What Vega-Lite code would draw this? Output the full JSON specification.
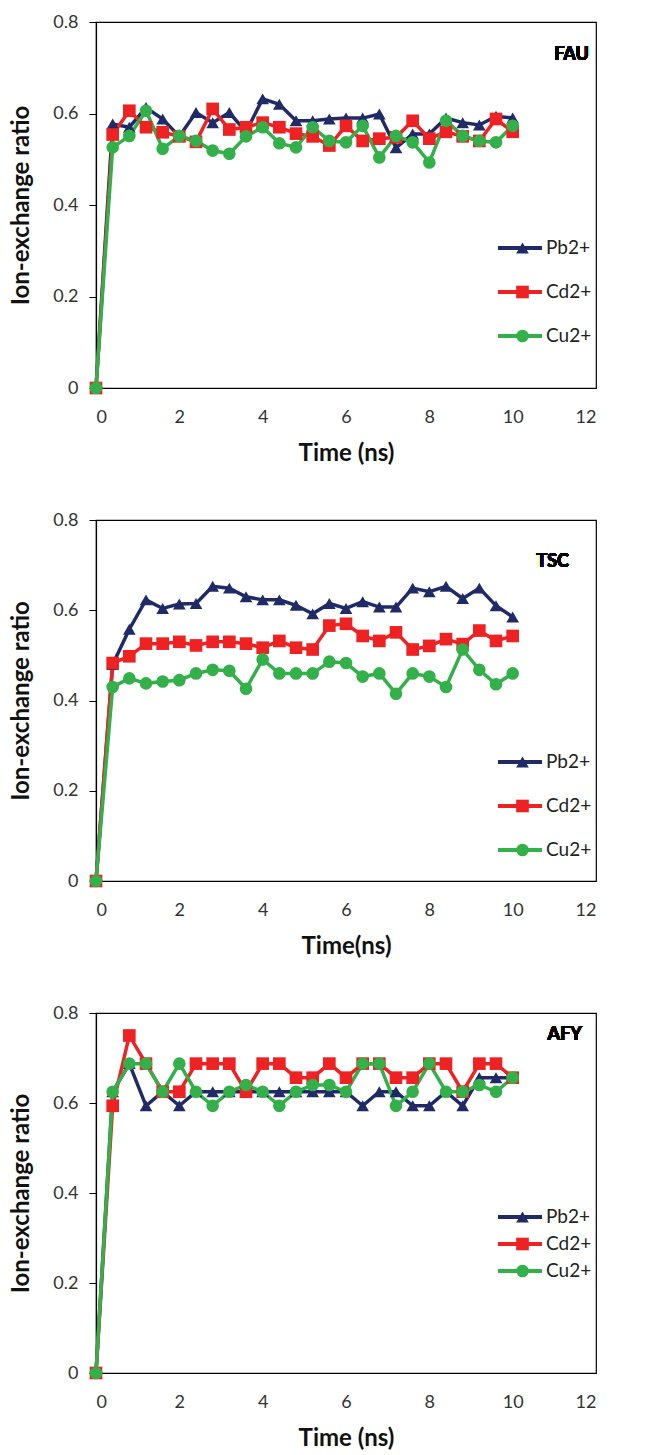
{
  "$schema": "https://vega.github.io/schema/vega-lite/v6.json",
  "padding": {"left": 9, "top": 12, "right": 5, "bottom": 5},
  "background": "white",
  "config": {
    "font": "Lato",
    "view": {"stroke": "#000", "strokeWidth": 1.2},
    "axis": {"grid": false, "domainColor": "#000", "domainWidth": 1.2, "tickColor": "#000", "labelFont": "Lato", "labelFontSize": 18, "labelColor": "#333", "titleFont": "Lato", "titleFontSize": 24, "titleFontWeight": "bold", "titleColor": "#111"},
    "legend": {"labelFont": "Lato", "labelFontSize": 19, "labelColor": "#222", "padding": 0}
  },
  "datasets": {
    "fau": [
      {"t": 0, "ion": "Pb2+", "r": 0}, {"t": 0.4, "ion": "Pb2+", "r": 0.577}, {"t": 0.8, "ion": "Pb2+", "r": 0.57}, {"t": 1.2, "ion": "Pb2+", "r": 0.613}, {"t": 1.6, "ion": "Pb2+", "r": 0.588}, {"t": 2.0, "ion": "Pb2+", "r": 0.55}, {"t": 2.4, "ion": "Pb2+", "r": 0.602}, {"t": 2.8, "ion": "Pb2+", "r": 0.58}, {"t": 3.2, "ion": "Pb2+", "r": 0.602}, {"t": 3.6, "ion": "Pb2+", "r": 0.56}, {"t": 4.0, "ion": "Pb2+", "r": 0.632}, {"t": 4.4, "ion": "Pb2+", "r": 0.62}, {"t": 4.8, "ion": "Pb2+", "r": 0.584}, {"t": 5.2, "ion": "Pb2+", "r": 0.584}, {"t": 5.6, "ion": "Pb2+", "r": 0.588}, {"t": 6.0, "ion": "Pb2+", "r": 0.59}, {"t": 6.4, "ion": "Pb2+", "r": 0.59}, {"t": 6.8, "ion": "Pb2+", "r": 0.599}, {"t": 7.2, "ion": "Pb2+", "r": 0.525}, {"t": 7.6, "ion": "Pb2+", "r": 0.555}, {"t": 8.0, "ion": "Pb2+", "r": 0.555}, {"t": 8.4, "ion": "Pb2+", "r": 0.59}, {"t": 8.8, "ion": "Pb2+", "r": 0.58}, {"t": 9.2, "ion": "Pb2+", "r": 0.575}, {"t": 9.6, "ion": "Pb2+", "r": 0.594}, {"t": 10.0, "ion": "Pb2+", "r": 0.59},
      {"t": 0, "ion": "Cd2+", "r": 0}, {"t": 0.4, "ion": "Cd2+", "r": 0.554}, {"t": 0.8, "ion": "Cd2+", "r": 0.606}, {"t": 1.2, "ion": "Cd2+", "r": 0.57}, {"t": 1.6, "ion": "Cd2+", "r": 0.559}, {"t": 2.0, "ion": "Cd2+", "r": 0.55}, {"t": 2.4, "ion": "Cd2+", "r": 0.538}, {"t": 2.8, "ion": "Cd2+", "r": 0.61}, {"t": 3.2, "ion": "Cd2+", "r": 0.565}, {"t": 3.6, "ion": "Cd2+", "r": 0.57}, {"t": 4.0, "ion": "Cd2+", "r": 0.58}, {"t": 4.4, "ion": "Cd2+", "r": 0.57}, {"t": 4.8, "ion": "Cd2+", "r": 0.556}, {"t": 5.2, "ion": "Cd2+", "r": 0.55}, {"t": 5.6, "ion": "Cd2+", "r": 0.53}, {"t": 6.0, "ion": "Cd2+", "r": 0.573}, {"t": 6.4, "ion": "Cd2+", "r": 0.54}, {"t": 6.8, "ion": "Cd2+", "r": 0.545}, {"t": 7.2, "ion": "Cd2+", "r": 0.548}, {"t": 7.6, "ion": "Cd2+", "r": 0.584}, {"t": 8.0, "ion": "Cd2+", "r": 0.545}, {"t": 8.4, "ion": "Cd2+", "r": 0.56}, {"t": 8.8, "ion": "Cd2+", "r": 0.55}, {"t": 9.2, "ion": "Cd2+", "r": 0.54}, {"t": 9.6, "ion": "Cd2+", "r": 0.588}, {"t": 10.0, "ion": "Cd2+", "r": 0.56},
      {"t": 0, "ion": "Cu2+", "r": 0}, {"t": 0.4, "ion": "Cu2+", "r": 0.526}, {"t": 0.8, "ion": "Cu2+", "r": 0.551}, {"t": 1.2, "ion": "Cu2+", "r": 0.606}, {"t": 1.6, "ion": "Cu2+", "r": 0.523}, {"t": 2.0, "ion": "Cu2+", "r": 0.551}, {"t": 2.4, "ion": "Cu2+", "r": 0.54}, {"t": 2.8, "ion": "Cu2+", "r": 0.519}, {"t": 3.2, "ion": "Cu2+", "r": 0.512}, {"t": 3.6, "ion": "Cu2+", "r": 0.55}, {"t": 4.0, "ion": "Cu2+", "r": 0.57}, {"t": 4.4, "ion": "Cu2+", "r": 0.535}, {"t": 4.8, "ion": "Cu2+", "r": 0.526}, {"t": 5.2, "ion": "Cu2+", "r": 0.57}, {"t": 5.6, "ion": "Cu2+", "r": 0.54}, {"t": 6.0, "ion": "Cu2+", "r": 0.537}, {"t": 6.4, "ion": "Cu2+", "r": 0.573}, {"t": 6.8, "ion": "Cu2+", "r": 0.504}, {"t": 7.2, "ion": "Cu2+", "r": 0.551}, {"t": 7.6, "ion": "Cu2+", "r": 0.537}, {"t": 8.0, "ion": "Cu2+", "r": 0.493}, {"t": 8.4, "ion": "Cu2+", "r": 0.584}, {"t": 8.8, "ion": "Cu2+", "r": 0.551}, {"t": 9.2, "ion": "Cu2+", "r": 0.54}, {"t": 9.6, "ion": "Cu2+", "r": 0.537}, {"t": 10.0, "ion": "Cu2+", "r": 0.573}
    ],
    "tsc": [
      {"t": 0, "ion": "Pb2+", "r": 0}, {"t": 0.4, "ion": "Pb2+", "r": 0.48}, {"t": 0.8, "ion": "Pb2+", "r": 0.558}, {"t": 1.2, "ion": "Pb2+", "r": 0.623}, {"t": 1.6, "ion": "Pb2+", "r": 0.604}, {"t": 2.0, "ion": "Pb2+", "r": 0.614}, {"t": 2.4, "ion": "Pb2+", "r": 0.615}, {"t": 2.8, "ion": "Pb2+", "r": 0.653}, {"t": 3.2, "ion": "Pb2+", "r": 0.649}, {"t": 3.6, "ion": "Pb2+", "r": 0.63}, {"t": 4.0, "ion": "Pb2+", "r": 0.623}, {"t": 4.4, "ion": "Pb2+", "r": 0.623}, {"t": 4.8, "ion": "Pb2+", "r": 0.611}, {"t": 5.2, "ion": "Pb2+", "r": 0.592}, {"t": 5.6, "ion": "Pb2+", "r": 0.615}, {"t": 6.0, "ion": "Pb2+", "r": 0.604}, {"t": 6.4, "ion": "Pb2+", "r": 0.619}, {"t": 6.8, "ion": "Pb2+", "r": 0.607}, {"t": 7.2, "ion": "Pb2+", "r": 0.607}, {"t": 7.6, "ion": "Pb2+", "r": 0.649}, {"t": 8.0, "ion": "Pb2+", "r": 0.641}, {"t": 8.4, "ion": "Pb2+", "r": 0.653}, {"t": 8.8, "ion": "Pb2+", "r": 0.626}, {"t": 9.2, "ion": "Pb2+", "r": 0.649}, {"t": 9.6, "ion": "Pb2+", "r": 0.61}, {"t": 10.0, "ion": "Pb2+", "r": 0.585},
      {"t": 0, "ion": "Cd2+", "r": 0}, {"t": 0.4, "ion": "Cd2+", "r": 0.483}, {"t": 0.8, "ion": "Cd2+", "r": 0.498}, {"t": 1.2, "ion": "Cd2+", "r": 0.526}, {"t": 1.6, "ion": "Cd2+", "r": 0.526}, {"t": 2.0, "ion": "Cd2+", "r": 0.53}, {"t": 2.4, "ion": "Cd2+", "r": 0.522}, {"t": 2.8, "ion": "Cd2+", "r": 0.53}, {"t": 3.2, "ion": "Cd2+", "r": 0.53}, {"t": 3.6, "ion": "Cd2+", "r": 0.526}, {"t": 4.0, "ion": "Cd2+", "r": 0.517}, {"t": 4.4, "ion": "Cd2+", "r": 0.532}, {"t": 4.8, "ion": "Cd2+", "r": 0.517}, {"t": 5.2, "ion": "Cd2+", "r": 0.513}, {"t": 5.6, "ion": "Cd2+", "r": 0.566}, {"t": 6.0, "ion": "Cd2+", "r": 0.57}, {"t": 6.4, "ion": "Cd2+", "r": 0.543}, {"t": 6.8, "ion": "Cd2+", "r": 0.532}, {"t": 7.2, "ion": "Cd2+", "r": 0.551}, {"t": 7.6, "ion": "Cd2+", "r": 0.513}, {"t": 8.0, "ion": "Cd2+", "r": 0.521}, {"t": 8.4, "ion": "Cd2+", "r": 0.536}, {"t": 8.8, "ion": "Cd2+", "r": 0.525}, {"t": 9.2, "ion": "Cd2+", "r": 0.555}, {"t": 9.6, "ion": "Cd2+", "r": 0.532}, {"t": 10.0, "ion": "Cd2+", "r": 0.543},
      {"t": 0, "ion": "Cu2+", "r": 0}, {"t": 0.4, "ion": "Cu2+", "r": 0.43}, {"t": 0.8, "ion": "Cu2+", "r": 0.449}, {"t": 1.2, "ion": "Cu2+", "r": 0.438}, {"t": 1.6, "ion": "Cu2+", "r": 0.442}, {"t": 2.0, "ion": "Cu2+", "r": 0.445}, {"t": 2.4, "ion": "Cu2+", "r": 0.46}, {"t": 2.8, "ion": "Cu2+", "r": 0.468}, {"t": 3.2, "ion": "Cu2+", "r": 0.466}, {"t": 3.6, "ion": "Cu2+", "r": 0.426}, {"t": 4.0, "ion": "Cu2+", "r": 0.491}, {"t": 4.4, "ion": "Cu2+", "r": 0.46}, {"t": 4.8, "ion": "Cu2+", "r": 0.46}, {"t": 5.2, "ion": "Cu2+", "r": 0.46}, {"t": 5.6, "ion": "Cu2+", "r": 0.486}, {"t": 6.0, "ion": "Cu2+", "r": 0.483}, {"t": 6.4, "ion": "Cu2+", "r": 0.453}, {"t": 6.8, "ion": "Cu2+", "r": 0.46}, {"t": 7.2, "ion": "Cu2+", "r": 0.415}, {"t": 7.6, "ion": "Cu2+", "r": 0.46}, {"t": 8.0, "ion": "Cu2+", "r": 0.453}, {"t": 8.4, "ion": "Cu2+", "r": 0.43}, {"t": 8.8, "ion": "Cu2+", "r": 0.513}, {"t": 9.2, "ion": "Cu2+", "r": 0.468}, {"t": 9.6, "ion": "Cu2+", "r": 0.436}, {"t": 10.0, "ion": "Cu2+", "r": 0.46}
    ],
    "afy": [
      {"t": 0, "ion": "Pb2+", "r": 0}, {"t": 0.4, "ion": "Pb2+", "r": 0.625}, {"t": 0.8, "ion": "Pb2+", "r": 0.6875}, {"t": 1.2, "ion": "Pb2+", "r": 0.59375}, {"t": 1.6, "ion": "Pb2+", "r": 0.625}, {"t": 2.0, "ion": "Pb2+", "r": 0.59375}, {"t": 2.4, "ion": "Pb2+", "r": 0.625}, {"t": 2.8, "ion": "Pb2+", "r": 0.625}, {"t": 3.2, "ion": "Pb2+", "r": 0.625}, {"t": 3.6, "ion": "Pb2+", "r": 0.625}, {"t": 4.0, "ion": "Pb2+", "r": 0.625}, {"t": 4.4, "ion": "Pb2+", "r": 0.625}, {"t": 4.8, "ion": "Pb2+", "r": 0.625}, {"t": 5.2, "ion": "Pb2+", "r": 0.625}, {"t": 5.6, "ion": "Pb2+", "r": 0.625}, {"t": 6.0, "ion": "Pb2+", "r": 0.625}, {"t": 6.4, "ion": "Pb2+", "r": 0.59375}, {"t": 6.8, "ion": "Pb2+", "r": 0.625}, {"t": 7.2, "ion": "Pb2+", "r": 0.625}, {"t": 7.6, "ion": "Pb2+", "r": 0.59375}, {"t": 8.0, "ion": "Pb2+", "r": 0.59375}, {"t": 8.4, "ion": "Pb2+", "r": 0.625}, {"t": 8.8, "ion": "Pb2+", "r": 0.59375}, {"t": 9.2, "ion": "Pb2+", "r": 0.65625}, {"t": 9.6, "ion": "Pb2+", "r": 0.65625}, {"t": 10.0, "ion": "Pb2+", "r": 0.65625},
      {"t": 0, "ion": "Cd2+", "r": 0}, {"t": 0.4, "ion": "Cd2+", "r": 0.59375}, {"t": 0.8, "ion": "Cd2+", "r": 0.75}, {"t": 1.2, "ion": "Cd2+", "r": 0.6875}, {"t": 1.6, "ion": "Cd2+", "r": 0.625}, {"t": 2.0, "ion": "Cd2+", "r": 0.625}, {"t": 2.4, "ion": "Cd2+", "r": 0.6875}, {"t": 2.8, "ion": "Cd2+", "r": 0.6875}, {"t": 3.2, "ion": "Cd2+", "r": 0.6875}, {"t": 3.6, "ion": "Cd2+", "r": 0.625}, {"t": 4.0, "ion": "Cd2+", "r": 0.6875}, {"t": 4.4, "ion": "Cd2+", "r": 0.6875}, {"t": 4.8, "ion": "Cd2+", "r": 0.65625}, {"t": 5.2, "ion": "Cd2+", "r": 0.65625}, {"t": 5.6, "ion": "Cd2+", "r": 0.6875}, {"t": 6.0, "ion": "Cd2+", "r": 0.65625}, {"t": 6.4, "ion": "Cd2+", "r": 0.6875}, {"t": 6.8, "ion": "Cd2+", "r": 0.6875}, {"t": 7.2, "ion": "Cd2+", "r": 0.65625}, {"t": 7.6, "ion": "Cd2+", "r": 0.65625}, {"t": 8.0, "ion": "Cd2+", "r": 0.6875}, {"t": 8.4, "ion": "Cd2+", "r": 0.6875}, {"t": 8.8, "ion": "Cd2+", "r": 0.625}, {"t": 9.2, "ion": "Cd2+", "r": 0.6875}, {"t": 9.6, "ion": "Cd2+", "r": 0.6875}, {"t": 10.0, "ion": "Cd2+", "r": 0.65625},
      {"t": 0, "ion": "Cu2+", "r": 0}, {"t": 0.4, "ion": "Cu2+", "r": 0.625}, {"t": 0.8, "ion": "Cu2+", "r": 0.6875}, {"t": 1.2, "ion": "Cu2+", "r": 0.6875}, {"t": 1.6, "ion": "Cu2+", "r": 0.625}, {"t": 2.0, "ion": "Cu2+", "r": 0.6875}, {"t": 2.4, "ion": "Cu2+", "r": 0.625}, {"t": 2.8, "ion": "Cu2+", "r": 0.59375}, {"t": 3.2, "ion": "Cu2+", "r": 0.625}, {"t": 3.6, "ion": "Cu2+", "r": 0.64}, {"t": 4.0, "ion": "Cu2+", "r": 0.625}, {"t": 4.4, "ion": "Cu2+", "r": 0.59375}, {"t": 4.8, "ion": "Cu2+", "r": 0.625}, {"t": 5.2, "ion": "Cu2+", "r": 0.64}, {"t": 5.6, "ion": "Cu2+", "r": 0.64}, {"t": 6.0, "ion": "Cu2+", "r": 0.625}, {"t": 6.4, "ion": "Cu2+", "r": 0.6875}, {"t": 6.8, "ion": "Cu2+", "r": 0.6875}, {"t": 7.2, "ion": "Cu2+", "r": 0.59375}, {"t": 7.6, "ion": "Cu2+", "r": 0.625}, {"t": 8.0, "ion": "Cu2+", "r": 0.6875}, {"t": 8.4, "ion": "Cu2+", "r": 0.625}, {"t": 8.8, "ion": "Cu2+", "r": 0.625}, {"t": 9.2, "ion": "Cu2+", "r": 0.64}, {"t": 9.6, "ion": "Cu2+", "r": 0.625}, {"t": 10.0, "ion": "Cu2+", "r": 0.65625}
    ]
  },
  "spacing": 44,
  "resolve": {
    "scale": {"stroke": "independent", "fill": "independent", "shape": "independent"},
    "legend": {"stroke": "independent", "fill": "independent", "shape": "independent"}
  },
  "vconcat": [
    {
      "width": 500, "height": 366,
      "data": {"name": "fau"},
      "layer": [
        {"mark": {"type": "line", "strokeWidth": 3.5},
         "encoding": {
           "x": {"field": "t", "type": "quantitative", "scale": {"domain": [0, 12]}, "axis": {"values": [0, 2, 4, 6, 8, 10, 12], "title": "Time (ns)", "ticks": false, "labelPadding": 20, "titlePadding": 15}},
           "y": {"field": "r", "type": "quantitative", "scale": {"domain": [0, 0.8]}, "axis": {"values": [0, 0.2, 0.4, 0.6, 0.8], "format": "~g", "title": "Ion-exchange ratio", "tickSize": 7, "labelPadding": 11, "titlePadding": 19}},
           "stroke": {"field": "ion", "type": "nominal", "sort": ["Pb2+", "Cd2+", "Cu2+"], "scale": {"range": ["#1f2a66", "#ee2222", "#33b04a"]}, "legend": {"orient": "none", "legendX": 400, "legendY": 218, "title": null, "symbolType": "stroke", "symbolSize": 1936, "symbolStrokeWidth": 4, "clipHeight": 16, "rowPadding": 25, "labelOffset": 2}}
         }},
        {"mark": {"type": "point", "filled": true, "opacity": 1, "size": 160},
         "encoding": {
           "x": {"field": "t", "type": "quantitative"},
           "y": {"field": "r", "type": "quantitative"},
           "fill": {"field": "ion", "type": "nominal", "scale": {"domain": ["Pb2+", "Cd2+", "Cu2+"], "range": ["#1f2a66", "#ee2222", "#33b04a"]}, "legend": {"orient": "none", "legendX": 417, "legendY": 218, "title": null, "symbolSize": 160, "clipHeight": 16, "rowPadding": 25, "labelExpr": "''", "symbolStrokeWidth": 0}},
           "shape": {"field": "ion", "type": "nominal", "scale": {"domain": ["Pb2+", "Cd2+", "Cu2+"], "range": ["triangle-up", "square", "circle"]}, "legend": {"orient": "none", "legendX": 417, "legendY": 218, "title": null, "symbolSize": 160, "clipHeight": 16, "rowPadding": 25, "labelExpr": "''", "symbolStrokeWidth": 0}}
         }},
        {"mark": {"type": "text", "align": "right", "baseline": "middle", "fontSize": 18, "fontWeight": "bold", "color": "#000"},
         "encoding": {"x": {"datum": 11.83}, "y": {"datum": 0.728}, "text": {"value": "FAU"}}}
      ]
    },
    {
      "width": 500, "height": 361,
      "data": {"name": "tsc"},
      "layer": [
        {"mark": {"type": "line", "strokeWidth": 3.5},
         "encoding": {
           "x": {"field": "t", "type": "quantitative", "scale": {"domain": [0, 12]}, "axis": {"values": [0, 2, 4, 6, 8, 10, 12], "title": "Time(ns)", "ticks": false, "labelPadding": 20, "titlePadding": 15}},
           "y": {"field": "r", "type": "quantitative", "scale": {"domain": [0, 0.8]}, "axis": {"values": [0, 0.2, 0.4, 0.6, 0.8], "format": "~g", "title": "Ion-exchange ratio", "tickSize": 7, "labelPadding": 11, "titlePadding": 19}},
           "stroke": {"field": "ion", "type": "nominal", "sort": ["Pb2+", "Cd2+", "Cu2+"], "scale": {"range": ["#1f2a66", "#ee2222", "#33b04a"]}, "legend": {"orient": "none", "legendX": 400, "legendY": 234, "title": null, "symbolType": "stroke", "symbolSize": 1936, "symbolStrokeWidth": 4, "clipHeight": 16, "rowPadding": 25, "labelOffset": 2}}
         }},
        {"mark": {"type": "point", "filled": true, "opacity": 1, "size": 160},
         "encoding": {
           "x": {"field": "t", "type": "quantitative"},
           "y": {"field": "r", "type": "quantitative"},
           "fill": {"field": "ion", "type": "nominal", "scale": {"domain": ["Pb2+", "Cd2+", "Cu2+"], "range": ["#1f2a66", "#ee2222", "#33b04a"]}, "legend": {"orient": "none", "legendX": 417, "legendY": 234, "title": null, "symbolSize": 160, "clipHeight": 16, "rowPadding": 25, "labelExpr": "''", "symbolStrokeWidth": 0}},
           "shape": {"field": "ion", "type": "nominal", "scale": {"domain": ["Pb2+", "Cd2+", "Cu2+"], "range": ["triangle-up", "square", "circle"]}, "legend": {"orient": "none", "legendX": 417, "legendY": 234, "title": null, "symbolSize": 160, "clipHeight": 16, "rowPadding": 25, "labelExpr": "''", "symbolStrokeWidth": 0}}
         }},
        {"mark": {"type": "text", "align": "right", "baseline": "middle", "fontSize": 18, "fontWeight": "bold", "color": "#000"},
         "encoding": {"x": {"datum": 11.35}, "y": {"datum": 0.707}, "text": {"value": "TSC"}}}
      ]
    },
    {
      "width": 500, "height": 360,
      "data": {"name": "afy"},
      "layer": [
        {"mark": {"type": "line", "strokeWidth": 3.5},
         "encoding": {
           "x": {"field": "t", "type": "quantitative", "scale": {"domain": [0, 12]}, "axis": {"values": [0, 2, 4, 6, 8, 10, 12], "title": "Time (ns)", "ticks": false, "labelPadding": 20, "titlePadding": 15}},
           "y": {"field": "r", "type": "quantitative", "scale": {"domain": [0, 0.8]}, "axis": {"values": [0, 0.2, 0.4, 0.6, 0.8], "format": "~g", "title": "Ion-exchange ratio", "tickSize": 7, "labelPadding": 11, "titlePadding": 19}},
           "stroke": {"field": "ion", "type": "nominal", "sort": ["Pb2+", "Cd2+", "Cu2+"], "scale": {"range": ["#1f2a66", "#ee2222", "#33b04a"]}, "legend": {"orient": "none", "legendX": 400, "legendY": 196, "title": null, "symbolType": "stroke", "symbolSize": 1936, "symbolStrokeWidth": 4, "clipHeight": 16, "rowPadding": 8, "labelOffset": 2}}
         }},
        {"mark": {"type": "point", "filled": true, "opacity": 1, "size": 160},
         "encoding": {
           "x": {"field": "t", "type": "quantitative"},
           "y": {"field": "r", "type": "quantitative"},
           "fill": {"field": "ion", "type": "nominal", "scale": {"domain": ["Pb2+", "Cd2+", "Cu2+"], "range": ["#1f2a66", "#ee2222", "#33b04a"]}, "legend": {"orient": "none", "legendX": 417, "legendY": 196, "title": null, "symbolSize": 160, "clipHeight": 16, "rowPadding": 8, "labelExpr": "''", "symbolStrokeWidth": 0}},
           "shape": {"field": "ion", "type": "nominal", "scale": {"domain": ["Pb2+", "Cd2+", "Cu2+"], "range": ["triangle-up", "square", "circle"]}, "legend": {"orient": "none", "legendX": 417, "legendY": 196, "title": null, "symbolSize": 160, "clipHeight": 16, "rowPadding": 8, "labelExpr": "''", "symbolStrokeWidth": 0}}
         }},
        {"mark": {"type": "text", "align": "right", "baseline": "middle", "fontSize": 18, "fontWeight": "bold", "color": "#000"},
         "encoding": {"x": {"datum": 11.66}, "y": {"datum": 0.751}, "text": {"value": "AFY"}}}
      ]
    }
  ]
}
